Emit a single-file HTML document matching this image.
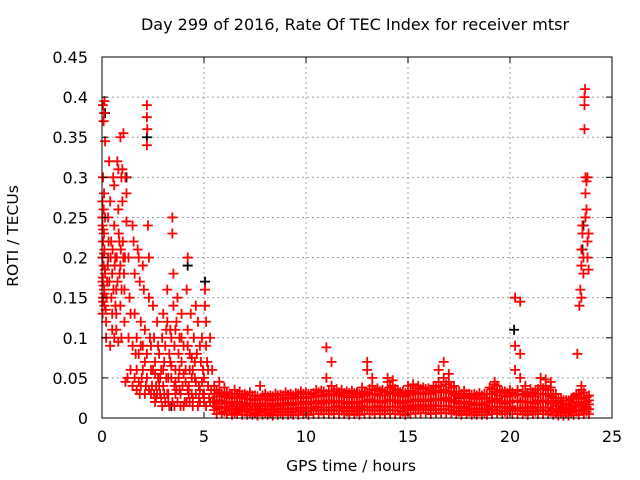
<!DOCTYPE html>
<html><head><meta charset="utf-8"><style>
body{margin:0;background:#fff}
svg{display:block;font-family:"DejaVu Sans","Liberation Sans",sans-serif}
</style></head><body>
<svg id="chart" width="640" height="480" xmlns="http://www.w3.org/2000/svg">
<text x="355" y="30" font-size="16" text-anchor="middle">Day 299 of 2016, Rate Of TEC Index for receiver mtsr</text>
<text x="351" y="471" font-size="15.5" text-anchor="middle">GPS time / hours</text>
<text transform="translate(18,236) rotate(-90)" font-size="15.5" text-anchor="middle">ROTI / TECUs</text>
<g id="grid"></g>
<g id="marks"></g>
<rect x="102" y="57" width="510" height="361" fill="none" stroke="#000" stroke-width="1"/>
<g id="ticks"></g>
</svg>
<script>
const xTicks=[0,5,10,15,20,25];
const yTicks=[0,0.05,0.1,0.15,0.2,0.25,0.3,0.35,0.4,0.45];
const yTickLabels=["0","0.05","0.1","0.15","0.2","0.25","0.3","0.35","0.4","0.45"];
// early storm period [hour, roti]
const earlyRed=[[0.05,0.39],[0.1,0.38],[0.08,0.37],[0.12,0.395],[0.15,0.345],[0.05,0.3],[0.1,0.28],[0.02,0.27],[0.08,0.26],[0.15,0.25],[0.03,0.24],[0.1,0.23],[0.05,0.22],[0.12,0.21],[0.02,0.2],[0.08,0.19],[0.15,0.18],[0.03,0.17],[0.1,0.16],[0.05,0.15],[0.12,0.14],[0.03,0.13],[0.2,0.12],[0.25,0.17],[0.3,0.2],[0.3,0.25],[0.35,0.32],[0.4,0.27],[0.45,0.22],[0.5,0.18],[0.5,0.13],[0.55,0.3],[0.6,0.29],[0.6,0.24],[0.65,0.2],[0.7,0.16],[0.7,0.11],[0.75,0.32],[0.8,0.31],[0.8,0.26],[0.85,0.22],[0.9,0.19],[0.9,0.14],[0.95,0.3],[1.0,0.31],[1.0,0.27],[1.05,0.2],[1.1,0.16],[1.1,0.12],[1.15,0.3],[1.2,0.28],[0.95,0.1],[0.4,0.09],[0.2,0.1],[0.6,0.1],[0.8,0.095],[0.9,0.35],[1.05,0.355],[1.2,0.245],[1.3,0.2],[1.35,0.15],[1.3,0.1],[1.25,0.05],[1.4,0.13],[1.5,0.24],[1.55,0.22],[1.6,0.18],[1.6,0.13],[1.65,0.08],[1.7,0.06],[1.75,0.21],[1.8,0.2],[1.85,0.17],[1.9,0.12],[1.9,0.09],[1.95,0.05],[2.0,0.19],[2.05,0.16],[2.1,0.11],[2.1,0.07],[2.15,0.04],[2.2,0.39],[2.2,0.375],[2.22,0.36],[2.2,0.34],[2.25,0.24],[2.3,0.2],[2.3,0.15],[2.35,0.1],[2.4,0.06],[2.45,0.04],[1.15,0.045],[1.85,0.03],[2.5,0.14],[2.55,0.1],[2.6,0.07],[2.65,0.04],[2.7,0.03],[2.7,0.12],[2.75,0.05],[2.8,0.08],[2.85,0.03],[2.9,0.06],[2.95,0.1],[3.0,0.13],[3.0,0.04],[3.05,0.07],[3.1,0.09],[3.1,0.02],[3.15,0.05],[3.2,0.12],[3.2,0.16],[3.25,0.03],[3.3,0.08],[3.35,0.11],[3.4,0.05],[3.45,0.02],[3.45,0.25],[3.45,0.23],[3.5,0.18],[3.5,0.14],[3.55,0.09],[3.6,0.06],[3.6,0.03],[3.65,0.12],[3.7,0.15],[3.75,0.05],[3.8,0.1],[3.85,0.03],[3.9,0.07],[3.9,0.13],[3.95,0.04],[4.0,0.09],[4.05,0.02],[4.1,0.06],[4.15,0.16],[4.2,0.2],[4.2,0.11],[4.25,0.04],[4.3,0.08],[4.35,0.13],[4.4,0.03],[4.45,0.06],[4.5,0.1],[4.55,0.05],[4.6,0.03],[4.6,0.14],[4.65,0.08],[4.7,0.12],[4.75,0.04],[4.8,0.02],[4.85,0.07],[4.9,0.1],[4.95,0.03],[5.0,0.05],[5.05,0.16],[5.05,0.14],[5.1,0.12],[5.1,0.09],[5.15,0.07],[5.2,0.04],[5.2,0.06],[5.25,0.025],[5.3,0.1],[5.35,0.035],[5.4,0.06],[5.45,0.02],[2.6,0.02],[2.9,0.025],[3.3,0.015],[3.7,0.02],[4.0,0.015],[4.3,0.02],[4.7,0.015],[5.0,0.02],[2.5,0.06],[3.05,0.03],[3.55,0.04],[4.45,0.025],[4.9,0.045],[2.75,0.09],[3.35,0.07],[3.8,0.06],[4.1,0.045],[4.55,0.07],[3.15,0.11],[3.9,0.1],[4.8,0.09],[2.55,0.03],[3.65,0.035],[4.25,0.03],[4.95,0.06],[3.25,0.05],[2.85,0.05],[3.75,0.08],[4.4,0.05]];
const earlyExtra=[[0.02,0.25],[0.06,0.235],[0.1,0.205],[0.14,0.185],[0.04,0.175],[0.08,0.165],[0.12,0.155],[0.06,0.145],[0.18,0.135],[0.22,0.15],[0.28,0.19],[0.32,0.22],[0.36,0.17],[0.42,0.2],[0.46,0.15],[0.52,0.21],[0.56,0.16],[0.62,0.19],[0.66,0.14],[0.72,0.2],[0.76,0.17],[0.82,0.23],[0.86,0.18],[0.92,0.21],[0.96,0.16],[1.02,0.22],[1.08,0.18],[1.12,0.2],[0.5,0.11],[0.7,0.13],[1.4,0.06],[1.5,0.04],[1.6,0.05],[1.7,0.035],[1.8,0.045],[1.9,0.04],[2.0,0.06],[2.1,0.03],[2.2,0.05],[2.3,0.035],[2.4,0.03],[2.6,0.055],[2.8,0.04],[3.0,0.06],[3.2,0.03],[3.4,0.065],[3.6,0.045],[3.8,0.035],[4.0,0.055],[4.2,0.035],[4.4,0.075],[4.6,0.045],[4.8,0.035],[5.0,0.03],[2.65,0.025],[2.95,0.015],[3.25,0.02],[3.55,0.015],[3.85,0.015],[4.15,0.02],[4.45,0.015],[4.75,0.025],[5.1,0.015],[5.3,0.02],[1.5,0.09],[1.7,0.1],[1.8,0.08],[2.0,0.09],[2.2,0.08],[2.4,0.09],[3.4,0.1],[3.6,0.11],[4.2,0.09],[4.3,0.06]];
const baseTimes=[5.5,5.75,6,6.25,6.5,6.75,7,7.25,7.5,7.75,8,8.25,8.5,8.75,9,9.25,9.5,9.75,10,10.25,10.5,10.75,11,11.25,11.5,11.75,12,12.25,12.5,12.75,13,13.25,13.5,13.75,14,14.25,14.5,14.75,15,15.25,15.5,15.75,16,16.25,16.5,16.75,17,17.25,17.5,17.75,18,18.25,18.5,18.75,19,19.25,19.5,19.75,20,20.25,20.5,20.75,21,21.25,21.5,21.75,22,22.25,22.5,22.75,23,23.25,23.5,23.75];
const baseVals=[[0.01,0.02,0.03,0.04,0.015],[0.012,0.022,0.032,0.018,0.045],[0.008,0.018,0.028,0.038,0.014],[0.01,0.02,0.03,0.025,0.015],[0.007,0.017,0.027,0.035,0.012],[0.009,0.019,0.026,0.033,0.014],[0.008,0.016,0.024,0.03,0.012],[0.007,0.015,0.023,0.032,0.011],[0.006,0.014,0.022,0.028,0.01],[0.008,0.016,0.024,0.04,0.012],[0.007,0.015,0.023,0.03,0.011],[0.006,0.014,0.022,0.028,0.01],[0.008,0.016,0.024,0.03,0.012],[0.007,0.015,0.023,0.029,0.011],[0.008,0.017,0.025,0.032,0.012],[0.007,0.016,0.024,0.03,0.011],[0.008,0.017,0.025,0.031,0.012],[0.009,0.018,0.026,0.033,0.013],[0.008,0.017,0.025,0.032,0.012],[0.009,0.018,0.026,0.03,0.013],[0.01,0.019,0.028,0.035,0.014],[0.009,0.018,0.027,0.034,0.013],[0.01,0.02,0.03,0.05,0.088],[0.009,0.019,0.028,0.04,0.07],[0.01,0.02,0.03,0.036,0.015],[0.009,0.019,0.028,0.035,0.014],[0.008,0.018,0.027,0.033,0.013],[0.009,0.019,0.028,0.034,0.014],[0.008,0.018,0.026,0.032,0.013],[0.01,0.02,0.03,0.038,0.015],[0.01,0.022,0.032,0.06,0.07],[0.009,0.02,0.03,0.04,0.05],[0.01,0.02,0.03,0.037,0.015],[0.009,0.019,0.028,0.035,0.014],[0.01,0.022,0.033,0.045,0.05],[0.01,0.021,0.032,0.04,0.047],[0.009,0.019,0.028,0.035,0.014],[0.008,0.018,0.027,0.033,0.013],[0.01,0.02,0.03,0.04,0.015],[0.011,0.022,0.033,0.042,0.016],[0.01,0.021,0.031,0.04,0.015],[0.011,0.022,0.032,0.038,0.016],[0.01,0.021,0.031,0.037,0.015],[0.011,0.022,0.033,0.04,0.016],[0.01,0.022,0.034,0.045,0.06],[0.011,0.023,0.035,0.05,0.07],[0.01,0.021,0.032,0.045,0.055],[0.009,0.02,0.03,0.04,0.014],[0.008,0.018,0.027,0.033,0.013],[0.009,0.019,0.028,0.034,0.014],[0.008,0.017,0.025,0.03,0.012],[0.007,0.016,0.024,0.03,0.011],[0.008,0.017,0.025,0.031,0.012],[0.007,0.016,0.024,0.03,0.011],[0.009,0.02,0.03,0.038,0.014],[0.01,0.022,0.033,0.042,0.045],[0.009,0.019,0.028,0.035,0.014],[0.008,0.018,0.027,0.033,0.013],[0.009,0.019,0.028,0.035,0.014],[0.01,0.03,0.06,0.09,0.15],[0.009,0.02,0.05,0.08,0.145],[0.008,0.02,0.03,0.04,0.013],[0.009,0.019,0.028,0.036,0.014],[0.008,0.018,0.027,0.035,0.013],[0.01,0.02,0.03,0.04,0.05],[0.009,0.02,0.03,0.04,0.048],[0.008,0.018,0.027,0.038,0.045],[0.007,0.015,0.022,0.03,0.011],[0.006,0.012,0.018,0.025,0.009],[0.006,0.011,0.016,0.022,0.008],[0.007,0.012,0.018,0.024,0.01],[0.008,0.014,0.02,0.028,0.03],[0.009,0.016,0.024,0.035,0.04],[0.008,0.014,0.02,0.026,0.012]];
const midTimes=[5.62,5.87,6.12,6.37,6.62,6.87,7.12,7.37,7.62,7.87,8.12,8.37,8.62,8.87,9.12,9.37,9.62,9.87,10.12,10.37,10.62,10.87,11.12,11.37,11.62,11.87,12.12,12.37,12.62,12.87,13.12,13.37,13.62,13.87,14.12,14.37,14.62,14.87,15.12,15.37,15.62,15.87,16.12,16.37,16.62,16.87,17.12,17.37,17.62,17.87,18.12,18.37,18.62,18.87,19.12,19.37,19.62,19.87,20.12,20.37,20.62,20.87,21.12,21.37,21.62,21.87,22.12,22.37,22.62,22.87,23.12,23.37,23.62,23.87];
const midVals=[[0.005,0.013,0.022,0.027,0.035],[0.006,0.012,0.021,0.027,0.03],[0.005,0.012,0.02,0.026,0.032],[0.004,0.011,0.019,0.025,0.03],[0.005,0.012,0.02,0.026,0.03],[0.004,0.011,0.019,0.025,0.029],[0.004,0.011,0.018,0.024,0.028],[0.004,0.01,0.018,0.024,0.028],[0.003,0.01,0.017,0.023,0.027],[0.004,0.011,0.018,0.024,0.028],[0.004,0.01,0.018,0.024,0.027],[0.003,0.01,0.017,0.023,0.027],[0.004,0.011,0.018,0.024,0.028],[0.004,0.011,0.018,0.024,0.028],[0.004,0.011,0.019,0.025,0.029],[0.004,0.011,0.018,0.025,0.028],[0.004,0.012,0.019,0.026,0.03],[0.005,0.012,0.02,0.026,0.03],[0.004,0.012,0.019,0.026,0.03],[0.005,0.012,0.02,0.027,0.031],[0.005,0.013,0.021,0.028,0.032],[0.005,0.013,0.021,0.028,0.033],[0.005,0.013,0.022,0.029,0.034],[0.005,0.013,0.021,0.028,0.033],[0.005,0.013,0.021,0.028,0.032],[0.005,0.012,0.02,0.027,0.031],[0.004,0.012,0.02,0.026,0.031],[0.005,0.012,0.02,0.027,0.031],[0.004,0.012,0.02,0.026,0.03],[0.005,0.013,0.021,0.028,0.033],[0.005,0.014,0.023,0.03,0.036],[0.005,0.013,0.022,0.029,0.035],[0.005,0.013,0.021,0.028,0.033],[0.005,0.013,0.021,0.028,0.032],[0.005,0.014,0.023,0.03,0.038],[0.005,0.014,0.022,0.03,0.036],[0.005,0.013,0.021,0.028,0.032],[0.004,0.012,0.02,0.027,0.031],[0.005,0.013,0.022,0.029,0.034],[0.006,0.014,0.023,0.031,0.037],[0.006,0.014,0.023,0.03,0.036],[0.006,0.014,0.023,0.03,0.036],[0.005,0.014,0.022,0.03,0.035],[0.006,0.015,0.024,0.032,0.038],[0.006,0.015,0.024,0.032,0.04],[0.006,0.015,0.025,0.033,0.042],[0.006,0.014,0.023,0.031,0.038],[0.005,0.013,0.021,0.028,0.033],[0.004,0.012,0.02,0.026,0.03],[0.005,0.012,0.02,0.027,0.03],[0.004,0.011,0.019,0.025,0.029],[0.004,0.011,0.018,0.024,0.028],[0.004,0.011,0.018,0.024,0.028],[0.004,0.011,0.019,0.025,0.03],[0.005,0.013,0.022,0.03,0.036],[0.006,0.014,0.024,0.032,0.04],[0.005,0.013,0.021,0.028,0.033],[0.005,0.012,0.02,0.027,0.031],[0.005,0.012,0.021,0.028,0.032],[0.005,0.013,0.022,0.03,0.035],[0.005,0.012,0.021,0.028,0.033],[0.004,0.012,0.02,0.027,0.031],[0.005,0.012,0.02,0.027,0.032],[0.005,0.013,0.022,0.03,0.036],[0.005,0.013,0.022,0.03,0.037],[0.005,0.013,0.021,0.029,0.035],[0.004,0.011,0.018,0.025,0.03],[0.003,0.009,0.015,0.02,0.025],[0.003,0.008,0.013,0.018,0.022],[0.003,0.008,0.013,0.018,0.022],[0.004,0.009,0.015,0.02,0.026],[0.004,0.01,0.017,0.024,0.03],[0.005,0.011,0.018,0.025,0.032],[0.005,0.011,0.017,0.022,0.028]];
const lateRed=[[23.3,0.08],[23.4,0.14],[23.45,0.16],[23.5,0.19],[23.5,0.21],[23.55,0.23],[23.55,0.24],[23.6,0.18],[23.65,0.36],[23.65,0.39],[23.68,0.41],[23.65,0.4],[23.7,0.3],[23.7,0.28],[23.75,0.295],[23.75,0.26],[23.8,0.3],[23.8,0.22],[23.8,0.2],[23.85,0.185],[23.85,0.23],[23.7,0.25],[23.6,0.2],[23.5,0.15]];
const blackPts=[[0.15,0.38],[1.2,0.3],[2.2,0.35],[4.2,0.19],[5.05,0.17],[3.4,0.015],[20.2,0.11],[23.6,0.24],[23.55,0.21],[8.5,0.03],[12.5,0.03],[17.5,0.025]];

const L=102,R=612,T=57,B=418;
const xs=v=>L+(v-0)/(25-0)*(R-L);
const ys=v=>B-(v-0)/(0.45-0)*(B-T);
const NS="http://www.w3.org/2000/svg";
const grid=document.getElementById('grid'),ticks=document.getElementById('ticks'),marks=document.getElementById('marks');
function mk(tag,attrs,parent){const e=document.createElementNS(NS,tag);for(const k in attrs)e.setAttribute(k,attrs[k]);parent.appendChild(e);return e;}
xTicks.forEach(t=>{const x=xs(t);
 if(t>0&&t<25){const g=mk('line',{x1:x,x2:x,y1:T,y2:B,stroke:'#a0a0a0','stroke-dasharray':'2,3'},grid);
 
 }
 const a=mk('line',{x1:x,x2:x,y1:B,y2:B-6,stroke:'#000'},ticks);
 
 
 const b=mk('line',{x1:x,x2:x,y1:T,y2:T+6,stroke:'#000'},ticks);
 
 
 const tx=mk('text',{x:x,y:B+24,'font-size':16,'text-anchor':'middle'},ticks);tx.textContent=t;
 
 
});
yTicks.forEach((t,i)=>{const y=ys(t);
 if(i>0&&i<yTicks.length-1){const g=mk('line',{x1:L,x2:R,y1:y,y2:y,stroke:'#a0a0a0','stroke-dasharray':'2,3'},grid);
 
 }
 const a=mk('line',{x1:L,x2:L+6,y1:y,y2:y,stroke:'#000'},ticks);
 
 
 const b=mk('line',{x1:R,x2:R-6,y1:y,y2:y,stroke:'#000'},ticks);
 
 
 const tx=mk('text',{x:L-14,y:y+6,'font-size':16,'text-anchor':'end'},ticks);tx.textContent=yTickLabels[i];
 
 
});
function plus(t,v,col){const x=xs(t),y=ys(v);
 const p=mk('path',{d:`M${x-5},${y}h10M${x},${y-5}v10`,stroke:col,'stroke-width':1.8,fill:'none'},marks);
 
 }
blackPts.forEach(p=>plus(p[0],p[1],'#000'));
earlyRed.forEach(p=>plus(p[0],p[1],'#ff0000'));
earlyExtra.forEach(p=>plus(p[0],p[1],'#ff0000'));
baseTimes.forEach((t,i)=>baseVals[i].forEach(v=>plus(t,v,'#ff0000')));
midTimes.forEach((t,i)=>midVals[i].forEach(v=>plus(t,v,'#ff0000')));
lateRed.forEach(p=>plus(p[0],p[1],'#ff0000'));
</script>
</body></html>
